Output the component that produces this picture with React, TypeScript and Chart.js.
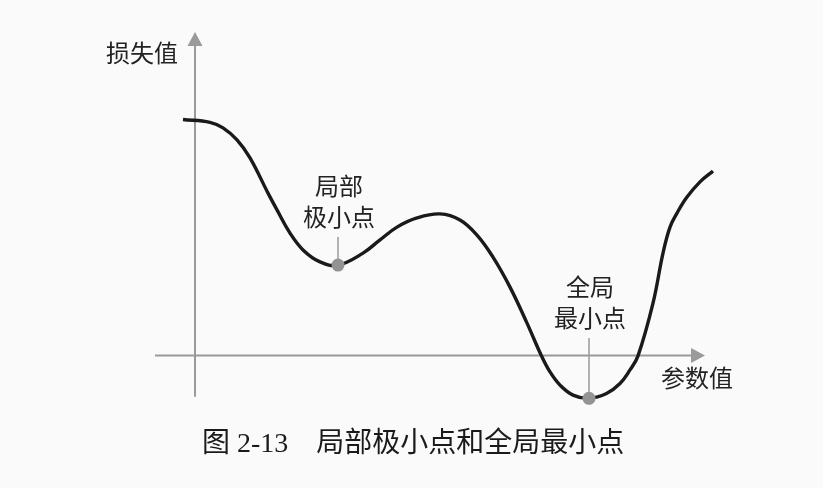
import React, { useEffect, useRef } from "react";
import { Chart, registerables } from "chart.js";

Chart.register(...registerables);

// Curve (parameter value vs loss)
const curveX = [-0.24, 0.3, 0.56, 0.84, 1.1, 1.46, 1.64, 1.9, 2.16, 2.5, 2.86, 3.36, 3.7, 4.04, 4.44, 4.9, 5.3, 5.64, 5.96, 6.3, 6.64, 6.93, 7.1, 7.3, 7.56, 7.88, 8.23, 8.5, 8.7, 8.86, 9.16, 9.36, 9.5, 9.64, 9.84, 10.1, 10.36];
const curveY = [5.9, 5.83, 5.69, 5.39, 4.94, 4.06, 3.64, 3.06, 2.64, 2.34, 2.26, 2.56, 2.89, 3.21, 3.44, 3.54, 3.39, 3.01, 2.46, 1.71, 0.81, -0.01, -0.41, -0.74, -0.99, -1.07, -0.95, -0.7, -0.36, -0.01, 1.31, 2.56, 3.21, 3.56, 3.96, 4.34, 4.61];

// Marked minima (indices into the curve)
const minimaIndex = [10, 25];
const minimaLabels = [["局部", "极小点"], ["全局", "最小点"]];
const leaderTopY = [2.96, 0.44];

// Axis texts
const yAxisTitle = "损失值";
const xAxisTitle = "参数值";
const caption = "图 2-13\u3000局部极小点和全局最小点";

// Axis extents (data units)
const xAxisRange = [-0.8, 10.2];
const yAxisRange = [-1.03, 8.09];

// Visible window (data units)
const xWindow = [-3.9, 12.56];
const yWindow = [-3.3125, 8.8875];

const FONT = '"Liberation Serif", "Noto Sans CJK SC", serif';
const TEXT = "#222222";
const GRAY = "#9a9a9a";

export default function App() {
  const ref = useRef<HTMLCanvasElement | null>(null);

  useEffect(() => {
    document.body.style.margin = "0";
    document.body.style.background = "#fafafa";
    const canvas = ref.current;
    if (!canvas) return;

    const decor = {
      id: "decor",
      beforeDatasetsDraw(chart: any) {
        const { ctx } = chart;
        const xs = chart.scales.x;
        const ys = chart.scales.y;
        const ox = xs.getPixelForValue(0);
        const oy = ys.getPixelForValue(0);
        ctx.save();
        ctx.strokeStyle = GRAY;
        ctx.fillStyle = GRAY;
        ctx.lineWidth = 2;
        // y axis
        const yTop = ys.getPixelForValue(yAxisRange[1]);
        const yBot = ys.getPixelForValue(yAxisRange[0]);
        ctx.beginPath();
        ctx.moveTo(ox, yBot);
        ctx.lineTo(ox, yTop + 10);
        ctx.stroke();
        ctx.beginPath();
        ctx.moveTo(ox, yTop);
        ctx.lineTo(ox - 7.5, yTop + 14);
        ctx.lineTo(ox + 7.5, yTop + 14);
        ctx.closePath();
        ctx.fill();
        // x axis
        const xL = xs.getPixelForValue(xAxisRange[0]);
        const xR = xs.getPixelForValue(xAxisRange[1]);
        ctx.beginPath();
        ctx.moveTo(xL, oy);
        ctx.lineTo(xR - 10, oy);
        ctx.stroke();
        ctx.beginPath();
        ctx.moveTo(xR, oy);
        ctx.lineTo(xR - 14, oy - 7.5);
        ctx.lineTo(xR - 14, oy + 7.5);
        ctx.closePath();
        ctx.fill();

        // leader lines
        ctx.lineWidth = 1.5;
        minimaIndex.forEach((idx, i) => {
          const px = xs.getPixelForValue(curveX[idx]);
          ctx.beginPath();
          ctx.moveTo(px, ys.getPixelForValue(curveY[idx]));
          ctx.lineTo(px, ys.getPixelForValue(leaderTopY[i]));
          ctx.stroke();
        });
        ctx.restore();
      },
      afterDatasetsDraw(chart: any) {
        const { ctx } = chart;
        const xs = chart.scales.x;
        const ys = chart.scales.y;
        const ox = xs.getPixelForValue(0);
        ctx.save();
        ctx.fillStyle = TEXT;
        ctx.textBaseline = "middle";
        ctx.font = `24px ${FONT}`;
        // axis titles
        ctx.textAlign = "right";
        ctx.fillText(yAxisTitle, ox - 17, ys.getPixelForValue(yAxisRange[1]) + 24);
        ctx.textAlign = "center";
        ctx.fillText(xAxisTitle, xs.getPixelForValue(xAxisRange[1]) - 8, ys.getPixelForValue(0) + 25);
        // minima labels
        minimaIndex.forEach((idx, i) => {
          const px = xs.getPixelForValue(curveX[idx]) + 1;
          const top = ys.getPixelForValue(leaderTopY[i]);
          const lines = minimaLabels[i];
          ctx.fillText(lines[1], px, top - 17.5);
          ctx.fillText(lines[0], px, top - 48.5);
        });
        // caption
        ctx.font = `28px ${FONT}`;
        ctx.textAlign = "left";
        ctx.fillStyle = "#1a1a1a";
        ctx.fillText(caption, 202, 445);
        ctx.restore();
      },
    };

    const chart = new Chart(canvas, {
      type: "scatter",
      data: {
        datasets: [
          {
            label: "minima",
            data: minimaIndex.map((i) => ({ x: curveX[i], y: curveY[i] })),
            pointRadius: 6.5,
            pointBackgroundColor: "#939393",
            pointBorderWidth: 0,
            showLine: false,
            order: 0,
          },
          {
            label: "loss",
            data: curveX.map((x, i) => ({ x, y: curveY[i] })),
            showLine: true,
            borderColor: "#1a1a1a",
            borderWidth: 3.4,
            pointRadius: 0,
            tension: 0.4,
            fill: false,
            order: 1,
          },
        ],
      },
      options: {
        animation: false,
        responsive: false,
        maintainAspectRatio: false,
        layout: { padding: 0, autoPadding: false },
        plugins: { legend: { display: false }, tooltip: { enabled: false } },
        events: [],
        scales: {
          x: { type: "linear", min: xWindow[0], max: xWindow[1], display: false },
          y: { type: "linear", min: yWindow[0], max: yWindow[1], display: false },
        },
      },
      plugins: [decor],
    } as any);
    return () => chart.destroy();
  }, []);

  return (
    <div style={{ width: 823, height: 488, background: "#fafafa" }}>
      <canvas ref={ref} width={823} height={488} style={{ display: "block" }} />
    </div>
  );
}
